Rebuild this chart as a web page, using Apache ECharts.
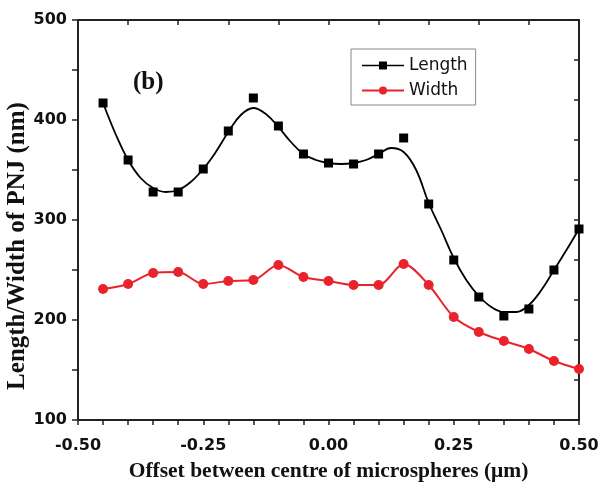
<!DOCTYPE html>
<html>
<head>
<meta charset="utf-8">
<script src="https://cdn.jsdelivr.net/npm/echarts@6/dist/echarts.min.js"></script>
<style>
  html, body { margin: 0; padding: 0; background: #fff; }
  #chart { width: 599px; height: 486px; }
</style>
</head>
<body>
<div id="chart"></div>
<script>
// offsets (um) where Length / Width were measured
var offsets = [-0.45, -0.40, -0.35, -0.30, -0.25, -0.20, -0.15, -0.10, -0.05, 0.00,
               0.05, 0.10, 0.15, 0.20, 0.25, 0.30, 0.35, 0.40, 0.45, 0.50];
var lengthVals = [417, 360, 328, 328, 351, 389, 422, 394, 366, 357,
                  356, 366, 382, 316, 260, 223, 204, 211, 250, 291];
var widthVals = [231, 236, 247, 248, 236, 239, 240, 255, 243, 239,
                 235, 235, 256, 235, 203, 188, 179, 171, 159, 151];

// fitted curve through the Length points
var fitX = [-0.45, -0.425, -0.40, -0.375, -0.35, -0.325, -0.30, -0.275, -0.25, -0.225,
            -0.20, -0.175, -0.15, -0.125, -0.10, -0.075, -0.05, -0.025, 0.00, 0.025,
            0.05, 0.075, 0.10, 0.125, 0.15, 0.175, 0.20, 0.225, 0.25, 0.275,
            0.30, 0.325, 0.35, 0.375, 0.40, 0.425, 0.45, 0.475, 0.50];
var fitY = [417, 386, 360, 342, 332, 328, 330, 338, 351, 368,
            388, 405, 412, 406, 393, 378, 366, 360, 357, 356,
            357, 360, 366, 372, 368, 350, 317, 290, 262, 240,
            224, 213, 208, 208, 215, 230, 250, 270, 291];

function pairs(xs, ys) {
  return xs.map(function (x, i) { return [x, ys[i]]; });
}

var chart = echarts.init(document.getElementById('chart'));
var axisColor = '#222';
var tickFont = { fontFamily: 'DejaVu Sans', fontWeight: 'bold', fontSize: 16, color: '#111' };

var option = {
  animation: false,
  backgroundColor: '#fff',
  title: {
    text: '(b)',
    left: 128, top: 65,
    textStyle: { fontFamily: 'Liberation Serif', fontWeight: 'bold', fontSize: 25, color: '#111' }
  },
  grid: { left: 78, right: 20, top: 20, bottom: 66, outerBoundsMode: 'none', containLabel: false },
  legend: {
    left: 351, top: 49,
    orient: 'vertical',
    itemWidth: 42, itemHeight: 10, itemGap: 8,
    padding: [8, 8, 6, 10],
    borderColor: '#888', borderWidth: 1,
    textStyle: { fontFamily: 'DejaVu Sans', fontSize: 17, color: '#111' },
    data: [
      { name: 'Length', lineStyle: { color: '#000', width: 1.5, opacity: 1 } },
      { name: 'Width' }
    ]
  },
  xAxis: [{
    type: 'value', position: 'bottom',
    min: -0.5, max: 0.5, interval: 0.25,
    name: 'Offset between centre of microspheres (\u03bcm)',
    nameLocation: 'middle', nameGap: 40, nameMoveOverlap: false,
    nameTextStyle: { fontFamily: 'Liberation Serif', fontWeight: 'bold', fontSize: 21.5, color: '#111' },
    axisLine: { onZero: false, lineStyle: { color: axisColor, width: 2 } },
    axisTick: { length: 5, lineStyle: { color: axisColor, width: 1.5 } },
    minorTick: { show: true, splitNumber: 5, length: 5, lineStyle: { color: axisColor, width: 1.5 } },
    axisLabel: Object.assign({ margin: 18, formatter: function (v) { return v.toFixed(2); } }, tickFont),
    splitLine: { show: false }
  }, {
    type: 'value', position: 'top',
    min: -0.5, max: 0.5, interval: 0.1,
    axisLine: { onZero: false, lineStyle: { color: axisColor, width: 2 } },
    axisTick: { inside: true, length: 5, lineStyle: { color: axisColor, width: 1.5 } },
    axisLabel: { show: false },
    splitLine: { show: false }
  }],
  yAxis: [{
    type: 'value', position: 'left',
    min: 100, max: 500, interval: 100,
    name: 'Length/Width of PNJ (nm)',
    nameLocation: 'middle', nameGap: 48, nameRotate: 90, nameMoveOverlap: false,
    nameTextStyle: { fontFamily: 'Liberation Serif', fontWeight: 'bold', fontSize: 25, color: '#111', padding: [0, 52, 0, 0] },
    axisLine: { show: true, onZero: false, lineStyle: { color: axisColor, width: 2 } },
    axisTick: { length: 6, lineStyle: { color: axisColor, width: 1.5 } },
    minorTick: { show: true, splitNumber: 2, length: 6, lineStyle: { color: axisColor, width: 1.5 } },
    axisLabel: Object.assign({ margin: 11 }, tickFont),
    splitLine: { show: false }
  }, {
    // right frame: ticks every 40 nm starting at 100 nm
    type: 'value', position: 'right',
    min: 0, max: 400, interval: 40,
    axisLine: { show: true, onZero: false, lineStyle: { color: axisColor, width: 2 } },
    axisTick: { inside: true, length: 5, lineStyle: { color: axisColor, width: 1.5 } },
    axisLabel: { show: false },
    splitLine: { show: false }
  }],
  series: [
    {
      name: 'Length fit',
      type: 'line',
      data: pairs(fitX, fitY),
      smooth: 0.4,
      showSymbol: false,
      lineStyle: { color: '#000', width: 1.8 },
      z: 2
    },
    {
      name: 'Length',
      type: 'line',
      data: pairs(offsets, lengthVals),
      symbol: 'rect',
      symbolSize: 9,
      itemStyle: { color: '#000' },
      lineStyle: { color: '#000', width: 0, opacity: 0 },
      z: 3
    },
    {
      name: 'Width',
      type: 'line',
      data: pairs(offsets, widthVals),
      smooth: 0.3,
      symbol: 'circle',
      symbolSize: 10,
      itemStyle: { color: '#e8232b' },
      lineStyle: { color: '#e8232b', width: 2 },
      z: 3
    }
  ]
};

chart.setOption(option);
</script>
</body>
</html>
